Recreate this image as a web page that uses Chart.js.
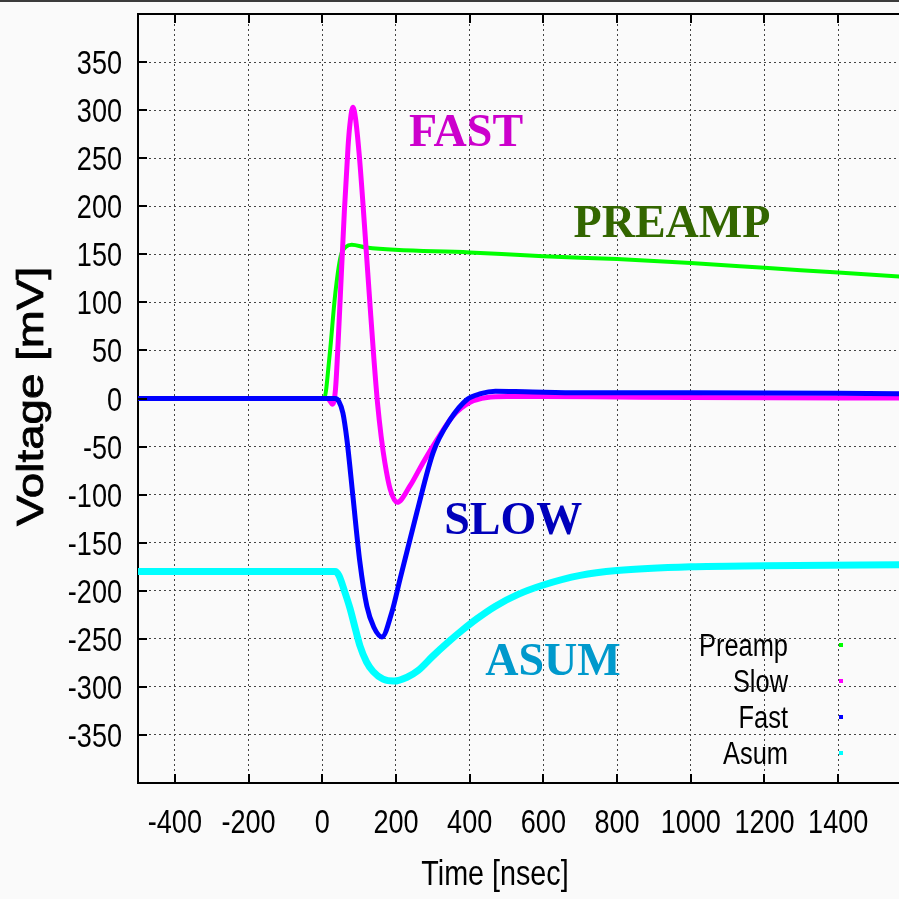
<!DOCTYPE html>
<html>
<head>
<meta charset="utf-8">
<script src="https://cdn.jsdelivr.net/npm/chart.js@4.4.0/dist/chart.umd.min.js"></script>
<style>
  html, body { margin: 0; padding: 0; background: #fafafa; overflow: hidden; }
  #topline { position: absolute; left: 0; top: 0; width: 899px; height: 2px; background: #3c3c3c; }
  canvas { display: block; }
</style>
</head>
<body>
<canvas id="chart" width="899" height="899"></canvas>
<div id="topline"></div>
<script>
// axis ticks
const xTicks = [-400, -200, 0, 200, 400, 600, 800, 1000, 1200, 1400];
const yTicks = [-350, -300, -250, -200, -150, -100, -50, 0, 50, 100, 150, 200, 250, 300, 350];

// Preamp (green)
const preampT = [-500, 5, 20, 35, 50, 65, 80, 120, 400, 600, 800, 1000, 1200, 1400, 1600];
const preampV = [0, 0, 45, 108, 148, 158, 160, 157, 152, 148, 145, 141, 136, 131, 126];

// Slow (magenta)
const slowT = [-500, 15, 28, 36, 43, 50, 60, 70, 75, 83, 90, 100, 110, 120, 130, 140, 150, 160, 170, 184, 203, 238, 273, 311, 355, 401, 447, 501, 600, 800, 1000, 1600];
const slowV = [0, 0, -6, 10, 58, 115, 195, 262, 285, 303, 292, 255, 205, 150, 95, 42, -5, -40, -67, -94, -108, -91, -67, -43, -18, -4, 1, 2, 2, 1.5, 1, 0.5];

// Fast (blue)
const fastT = [-500, 35, 45, 56, 67, 83, 102, 121, 140, 162, 189, 211, 257, 301, 347, 393, 430, 470, 550, 700, 1000, 1600];
const fastV = [0, 0, -3, -15, -43, -101, -170, -216, -238, -248, -222, -188, -118, -56, -22, -1, 5, 7.5, 7, 6, 6, 5];

// Asum (cyan)
const asumT = [-500, 35, 45, 60, 75, 90, 102, 120, 138, 165, 195, 230, 260, 300, 340, 380, 420, 470, 530, 600, 700, 800, 1000, 1200, 1600];
const asumV = [-180, -180, -184, -200, -218, -240, -257, -274, -284, -292, -294, -290, -283, -268, -254, -241, -229, -216, -204, -194, -184, -179, -175, -174, -173];

const seriesLabels = ['Preamp', 'Slow', 'Fast', 'Asum'];
const seriesColors = ['#00ff00', '#ff00ff', '#0000ff', '#00ffff'];

// text labels in the plot
const noteText = ['FAST', 'PREAMP', 'SLOW', 'ASUM'];
const noteX = [390, 949, 518, 626];
const noteY = [263, 168, -141, -288];
const noteColor = ['#cc00cc', '#336600', '#0000bb', '#0099cc'];

const xTitle = 'Time [nsec]';
const yTitle = 'Voltage [mV]';

const pts = (t, v) => t.map((x, i) => ({ x: x, y: v[i] }));
const sans = '"Liberation Sans", Arial, sans-serif';

const makeSet = (i, t, v, w, order) => ({
  label: seriesLabels[i],
  data: pts(t, v),
  borderColor: seriesColors[i],
  backgroundColor: seriesColors[i],
  borderWidth: w,
  pointRadius: 0,
  fill: false,
  cubicInterpolationMode: 'monotone',
  order: order
});

// condensed text, like the narrow helvetica of the original
function narrowText(ctx, s, x, y, align, size, sx) {
  ctx.save();
  ctx.translate(x, y);
  ctx.scale(sx || 0.82, 1);
  ctx.font = size + 'px ' + sans;
  ctx.textAlign = align;
  ctx.textBaseline = 'alphabetic';
  ctx.fillText(s, 0, 0);
  ctx.restore();
}

const framePlugin = {
  id: 'frame',
  afterDatasetsDraw(chart) {
    const { ctx, chartArea: a, scales: { x, y } } = chart;
    ctx.save();
    ctx.strokeStyle = '#000';
    ctx.lineWidth = 2;
    ctx.beginPath();
    ctx.moveTo(a.left, a.top);
    ctx.lineTo(a.right, a.top);
    xTicks.forEach(v => {
      const px = Math.round(x.getPixelForValue(v));
      ctx.moveTo(px, a.bottom); ctx.lineTo(px, a.bottom - 9);
      ctx.moveTo(px, a.top); ctx.lineTo(px, a.top + 9);
    });
    yTicks.forEach(v => {
      const py = Math.round(y.getPixelForValue(v));
      ctx.moveTo(a.left, py); ctx.lineTo(a.left + 9, py);
    });
    ctx.stroke();

    // tick labels
    ctx.fillStyle = '#000';
    yTicks.forEach(v => narrowText(ctx, String(v), a.left - 16, y.getPixelForValue(v) + 12, 'right', 33));
    xTicks.forEach(v => narrowText(ctx, String(v), x.getPixelForValue(v), a.bottom + 50, 'center', 33));

    // axis titles
    narrowText(ctx, xTitle, 495, a.bottom + 102, 'center', 35);
    ctx.save();
    ctx.translate(43, (a.top + a.bottom) / 2 - 2);
    ctx.rotate(-Math.PI / 2);
    ctx.scale(1.27, 1);
    ctx.font = '36px ' + sans;
    ctx.textAlign = 'center';
    ctx.textBaseline = 'alphabetic';
    ctx.strokeStyle = '#000';
    ctx.lineWidth = 0.8;
    ctx.fillText(yTitle, 0, 0);
    ctx.strokeText(yTitle, 0, 0);
    ctx.restore();

    // annotations
    ctx.font = 'bold 46px "Liberation Serif", serif';
    ctx.textAlign = 'center';
    ctx.textBaseline = 'alphabetic';
    noteText.forEach((s, i) => {
      ctx.fillStyle = noteColor[i];
      ctx.fillText(s, x.getPixelForValue(noteX[i]), y.getPixelForValue(noteY[i]));
    });

    // legend
    const lx = a.right - 111, sx = a.right - 58;
    chart.data.datasets.forEach((d, i) => {
      const ly = a.bottom - 127 + i * 36;
      ctx.fillStyle = '#000';
      narrowText(ctx, d.label, lx, ly, 'right', 31);
      ctx.fillStyle = d.borderColor;
      ctx.fillRect(sx - 2, ly - 13, 4, 4);
    });
    ctx.restore();
  }
};

new Chart(document.getElementById('chart'), {
  type: 'line',
  data: {
    datasets: [
      makeSet(0, preampT, preampV, 4, 4),
      makeSet(1, slowT, slowV, 5, 3),
      makeSet(2, fastT, fastV, 5, 2),
      makeSet(3, asumT, asumV, 7, 1)
    ]
  },
  options: {
    responsive: false,
    animation: false,
    layout: { padding: { top: 14, left: 0, right: 0, bottom: 0 } },
    plugins: { legend: { display: false }, tooltip: { enabled: false } },
    scales: {
      x: {
        type: 'linear',
        min: -500,
        max: 1565,
        afterBuildTicks: s => { s.ticks = xTicks.map(v => ({ value: v })); },
        afterFit: s => { s.height = 116; },
        grid: { color: '#444', lineWidth: 1, drawTicks: false },
        border: { display: true, color: '#000', width: 2, dash: [2, 3] },
        ticks: { display: false }
      },
      y: {
        type: 'linear',
        min: -400,
        max: 400,
        afterBuildTicks: s => { s.ticks = yTicks.map(v => ({ value: v })); },
        afterFit: s => { s.width = 138; },
        grid: { color: '#444', lineWidth: 1, drawTicks: false },
        border: { display: true, color: '#000', width: 2, dash: [2, 3] },
        ticks: { display: false }
      }
    }
  },
  plugins: [framePlugin]
});
</script>
</body>
</html>
